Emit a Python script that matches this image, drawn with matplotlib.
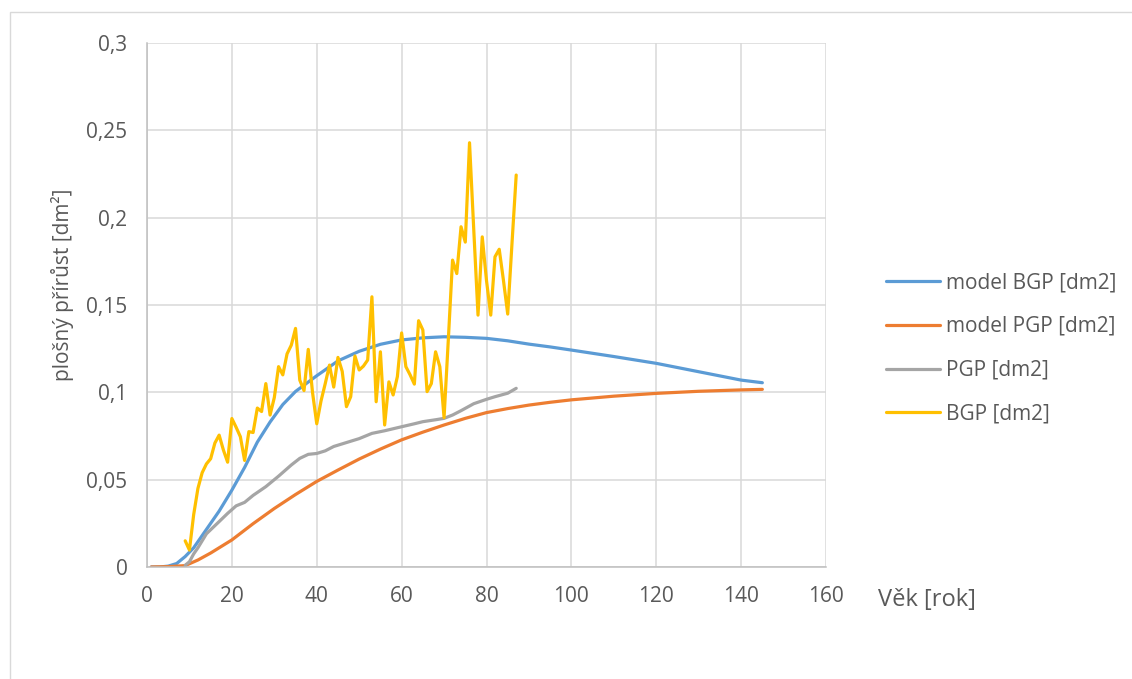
# plot.py
# Plošný přírůst (BGP, PGP) a jejich modely podle věku

import matplotlib.pyplot as plt
from matplotlib.patches import Rectangle

plt.rcParams['font.family'] = ['Open Sans', 'DejaVu Sans']

# model BGP [dm2]
model_bgp_x = [1, 3, 5, 7, 9, 11, 13, 15, 17, 20, 23, 26, 29, 32, 35, 40, 45,
               50, 55, 60, 65, 70, 75, 80, 85, 90, 95, 100, 110, 120, 130, 140,
               145]
model_bgp_y = [0, 0, 0.0005, 0.002, 0.006, 0.011, 0.018, 0.025, 0.032, 0.044,
               0.057, 0.0715, 0.083, 0.093, 0.1005, 0.1095, 0.118, 0.1235,
               0.1275, 0.130, 0.1312, 0.1318, 0.1315, 0.1309, 0.1295, 0.1276,
               0.126, 0.1242, 0.1205, 0.1166, 0.1118, 0.107, 0.1055]

# model PGP [dm2]
model_pgp_x = [1, 5, 9, 12, 15, 20, 25, 30, 35, 40, 45, 50, 55, 60, 65, 70, 75,
               80, 85, 90, 95, 100, 110, 120, 130, 140, 145]
model_pgp_y = [0, 0.0002, 0.0008, 0.004, 0.008, 0.0155, 0.0248, 0.0335, 0.0415,
               0.049, 0.0555, 0.0618, 0.0675, 0.0728, 0.0772, 0.0813, 0.0851,
               0.0884, 0.0907, 0.0927, 0.0943, 0.0957, 0.0978, 0.0994, 0.1006,
               0.1014, 0.1017]

# PGP [dm2]
pgp_x = [9, 10, 11, 12, 14, 17, 19, 21, 23, 25, 28, 31, 34, 36, 38, 40, 42, 44,
         46, 48, 50, 53, 56, 60, 63, 65, 68, 70, 72, 74, 77, 80, 82, 85, 87]
pgp_y = [0.001, 0.003, 0.0075, 0.011, 0.019, 0.026, 0.0307, 0.035, 0.037, 0.041,
         0.046, 0.052, 0.0584, 0.0622, 0.0645, 0.065, 0.0665, 0.069, 0.0705,
         0.072, 0.0735, 0.0765, 0.078, 0.0803, 0.082, 0.0832, 0.0843, 0.0851,
         0.087, 0.0895, 0.0935, 0.096, 0.0975, 0.0995, 0.1023]

# BGP [dm2], one value per year from 9 to 87
bgp_x = list(range(9, 88))
bgp_y = [0.015, 0.0097, 0.03, 0.045, 0.054, 0.059, 0.062, 0.071, 0.0755, 0.067,
         0.060, 0.085, 0.080, 0.0746, 0.061, 0.0775, 0.077, 0.091, 0.089, 0.105,
         0.087, 0.097, 0.1147, 0.110, 0.122, 0.127, 0.1366, 0.107, 0.101, 0.1246,
         0.100, 0.082, 0.095, 0.105, 0.1156, 0.103, 0.120, 0.112, 0.0918, 0.0975,
         0.1208, 0.1128, 0.115, 0.1185, 0.1547, 0.0946, 0.1232, 0.0813, 0.106,
         0.0985, 0.109, 0.134, 0.1147, 0.110, 0.1047, 0.141, 0.1357, 0.1004,
         0.105, 0.1232, 0.1147, 0.0855, 0.130, 0.1757, 0.168, 0.1948, 0.186,
         0.2429, 0.193, 0.1442, 0.189, 0.164, 0.1442, 0.1776, 0.1819, 0.164,
         0.1448, 0.185, 0.2244]

yticks = [0, 0.05, 0.1, 0.15, 0.2, 0.25, 0.3]
ytick_labels = ["0", "0,05", "0,1", "0,15", "0,2", "0,25", "0,3"]
xticks = [0, 20, 40, 60, 80, 100, 120, 140, 160]

fig = plt.figure(figsize=(11.32, 6.79), dpi=100)
fig.patches.append(Rectangle((10 / 1132, -0.05), 1.2, 1.05 - 12 / 679,
                             transform=fig.transFigure, fill=False,
                             edgecolor="#d9d9d9", linewidth=1))
ax = fig.add_axes([147 / 1132, 1 - 567 / 679, 679 / 1132, 524 / 679])

lw = 2.3
ax.plot(model_bgp_x, model_bgp_y, color="#5B9BD5", lw=lw,
        solid_capstyle="round", label="model BGP [dm2]")
ax.plot(model_pgp_x, model_pgp_y, color="#ED7D31", lw=lw,
        solid_capstyle="round", label="model PGP [dm2]")
ax.plot(pgp_x, pgp_y, color="#A5A5A5", lw=lw,
        solid_capstyle="round", label="PGP [dm2]")
ax.plot(bgp_x, bgp_y, color="#FFC000", lw=lw,
        solid_capstyle="round", label="BGP [dm2]")

ax.set_xlim(0, 160)
ax.set_ylim(0, 0.3)
ax.set_xticks(xticks)
ax.set_yticks(yticks)
ax.set_yticklabels(ytick_labels)
ax.grid(True, color="#d9d9d9", linewidth=1.1)
ax.set_axisbelow(True)
for s in ["top", "right"]:
    ax.spines[s].set_visible(False)
for s in ["left", "bottom"]:
    ax.spines[s].set_color("#bfbfbf")
    ax.spines[s].set_linewidth(1.1)
ax.tick_params(length=0, labelsize=15, labelcolor="#595959", pad=14)

fig.text(62 / 1132, 1 - 285 / 679, "plošný přírůst [dm²]", rotation=90,
         ha="center", va="center", fontsize=15, color="#595959")
fig.text(878 / 1132, 1 - 600 / 679, "Věk [rok]", ha="left", va="center",
         fontsize=17, color="#595959")

fig.legend(loc="upper left", bbox_to_anchor=(886 / 1132, 1 - 272 / 679),
           frameon=False, fontsize=15, labelcolor="#595959",
           handlelength=2.6, handletextpad=0.3, labelspacing=1.1,
           borderaxespad=0, borderpad=0)

fig.savefig("out.png", dpi=100)
